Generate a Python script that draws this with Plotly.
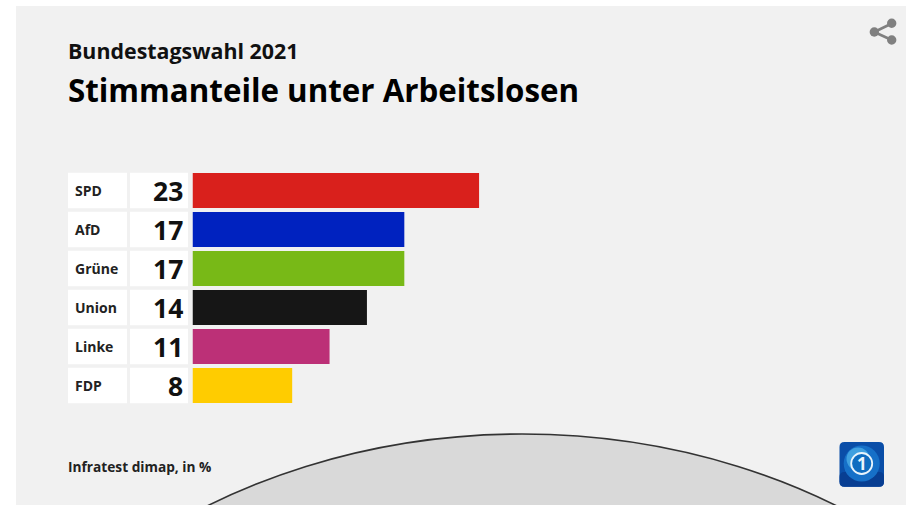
import plotly.graph_objects as go

W, H = 906, 505
FONT = "Open Sans"

parties = ["SPD", "AfD", "Grüne", "Union", "Linke", "FDP"]
shares = [23, 17, 17, 14, 11, 8]
colors = ["#D9201C", "#0022BF", "#78B917", "#161616", "#BC3077", "#FFCC00"]


def px(x):
    return x / W


def py(y):
    return 1 - y / H


def paper_rect(x0, y0, x1, y1, **kw):
    return dict(type="rect", xref="paper", yref="paper", x0=px(x0), x1=px(x1),
                y0=py(y0), y1=py(y1), **kw)


def paper_circle(cx, cy, r, **kw):
    return dict(type="circle", xref="paper", yref="paper", x0=px(cx - r), x1=px(cx + r),
                y0=py(cy - r), y1=py(cy + r), **kw)


def paper_line(x0, y0, x1, y1, **kw):
    return dict(type="line", xref="paper", yref="paper", x0=px(x0), x1=px(x1),
                y0=py(y0), y1=py(y1), **kw)


def rounded(x0, y0, x1, y1, r):
    a, b, c, d = px(x0), py(y0), px(x1), py(y1)
    rx, ry = r / W, r / H
    return (f"M{a + rx},{b} L{c - rx},{b} Q{c},{b} {c},{b - ry} L{c},{d + ry} Q{c},{d} {c - rx},{d} "
            f"L{a + rx},{d} Q{a},{d} {a},{d + ry} L{a},{b - ry} Q{a},{b} {a + rx},{b} Z")


NOLINE = dict(width=0)
shapes = [paper_rect(16, 6, 906, 505, fillcolor="#F1F1F1", line=NOLINE, layer="below")]

# large gray arc at the bottom
shapes.append(dict(type="circle", xref="paper", yref="paper", layer="below",
                   x0=px(522 - 587), x1=px(522 + 587), y0=py(434), y1=py(434 + 924),
                   fillcolor="#D9D9D9", line=dict(color="#333333", width=1.6)))

# white label cells
for i in range(len(parties)):
    for a, b in ((68, 127), (130, 188)):
        shapes.append(dict(type="rect", xref="paper", yref="y", layer="below",
                           x0=px(a), x1=px(b), y0=i - 0.455, y1=i + 0.455,
                           fillcolor="#FFFFFF", line=NOLINE))

# share icon
for seg in ((874.3, 32, 891.7, 23.5), (874.3, 32, 891.7, 40)):
    shapes.append(paper_line(*seg, line=dict(color="#808080", width=2.6)))
for c in ((891.7, 23.3, 4.7), (874.3, 32, 4.7), (891.7, 40, 4.7)):
    shapes.append(paper_circle(*c, fillcolor="#808080", line=NOLINE))

# broadcaster logo
shapes.append(dict(type="path", xref="paper", yref="paper", path=rounded(839.5, 442, 884, 486.7, 5),
                   fillcolor="#0A4EA8", line=NOLINE))
shapes.append(dict(type="path", xref="paper", yref="paper", path=rounded(839.5, 472, 884, 486.7, 5),
                   fillcolor="#083E92", line=NOLINE))
shapes.append(paper_circle(861.7, 463.5, 18, fillcolor="#1670C8", line=NOLINE))
shapes.append(paper_circle(858, 459, 11.5, fillcolor="#3FA0E0", line=NOLINE))
shapes.append(paper_circle(861.7, 463.5, 10.5, fillcolor="#0E6CC0", line=dict(color="#E8F4FC", width=1.8)))

fig = go.Figure(go.Bar(
    y=parties, x=shares, orientation="h", marker=dict(color=colors, line=dict(width=0)),
    width=0.9, hoverinfo="skip",
))

anns = [
    dict(text="<b>Bundestagswahl 2021</b>", xref="paper", yref="paper", x=px(66), y=py(51),
         xanchor="left", yanchor="middle", showarrow=False, font=dict(family=FONT, size=21.4, color="#111111")),
    dict(text="<b>Stimmanteile unter Arbeitslosen</b>", xref="paper", yref="paper", x=px(66), y=py(90.5),
         xanchor="left", yanchor="middle", showarrow=False, font=dict(family=FONT, size=31.3, color="#000000")),
    dict(text="<b>Infratest dimap, in %</b>", xref="paper", yref="paper", x=px(66), y=py(466.5),
         xanchor="left", yanchor="middle", showarrow=False, font=dict(family=FONT, size=13.7, color="#222222")),
    dict(text="<b>1</b>", xref="paper", yref="paper", x=px(861.5), y=py(463.5),
         xanchor="center", yanchor="middle", showarrow=False, font=dict(family=FONT, size=17, color="#EAF5FC")),
]
for name, val in zip(parties, shares):
    anns.append(dict(text=f"<b>{name}</b>", xref="paper", yref="y", x=px(73), y=name, xanchor="left",
                     yanchor="middle", showarrow=False, font=dict(family=FONT, size=14, color="#222222")))
    anns.append(dict(text=f"<b>{val}</b>", xref="paper", yref="y", x=px(185), y=name, xanchor="right",
                     yanchor="middle", showarrow=False, font=dict(family=FONT, size=26.5, color="#111111")))

fig.update_layout(
    width=W, height=H, autosize=False, margin=dict(l=0, r=0, t=0, b=0),
    paper_bgcolor="#FFFFFF", plot_bgcolor="rgba(0,0,0,0)", showlegend=False,
    shapes=shapes, annotations=anns,
    xaxis=dict(domain=[px(192.5), 1], range=[0, 713.5 / 12.46], visible=False, fixedrange=True),
    yaxis=dict(domain=[py(405), py(171)], type="category", categoryorder="array", categoryarray=parties,
               range=[5.5, -0.5], visible=False, fixedrange=True),
)
fig.write_html("out.html", config=dict(displayModeBar=False),
               post_script="document.body.style.margin='0';")
